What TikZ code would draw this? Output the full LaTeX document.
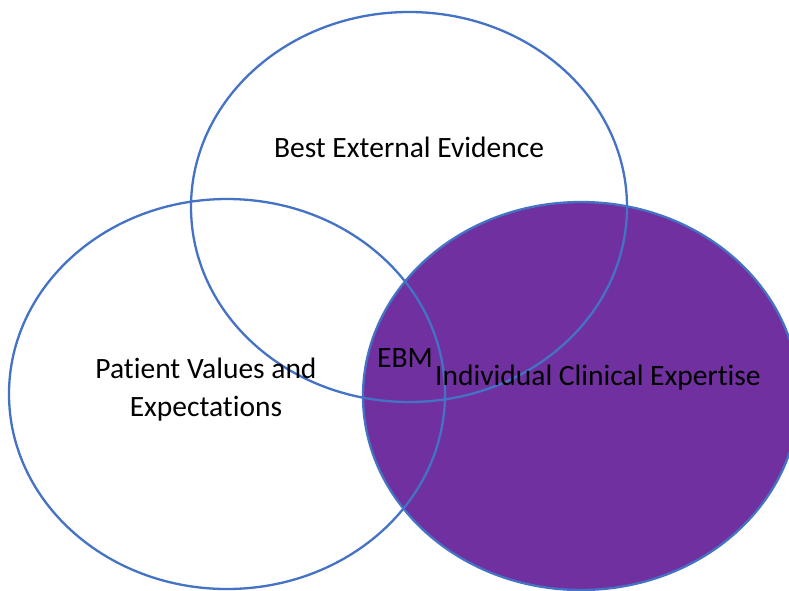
\documentclass[tikz,border=0pt]{standalone}
\usepackage{fontspec}
\setmainfont{Carlito}[RawFeature={-liga}]
\definecolor{olblue}{HTML}{4472C4}
\definecolor{ebmpurple}{HTML}{7030A0}
\begin{document}
\begin{tikzpicture}[x=1pt,y=-1pt,
  circ/.style={draw=olblue,line width=2.3pt},
  lbl/.style={font=\fontsize{29.5}{38}\selectfont,text=black,inner sep=0pt,align=center}]
\useasboundingbox (0,0) rectangle (789,590);
\fill[white] (0,0) rectangle (789,590);
\begin{scope}
\clip (0,0) rectangle (789,590);
\fill[ebmpurple] (581,396) ellipse [x radius=218, y radius=194];
\draw[circ] (581,396) ellipse [x radius=218, y radius=194];
\end{scope}
\draw[circ] (409,207) ellipse [x radius=218, y radius=195];
\draw[circ] (227,394) ellipse [x radius=218, y radius=195];
\node[lbl] (best) at (409,147) {Best External Evidence};
\node[lbl] (patient) at (206,390) {Patient Values and\\Expectations};
\node[lbl] (ebm) at (405,358) {EBM};
\node[lbl] (indiv) at (598,378) {Individual Clinical Expertise};
\end{tikzpicture}
\end{document}
